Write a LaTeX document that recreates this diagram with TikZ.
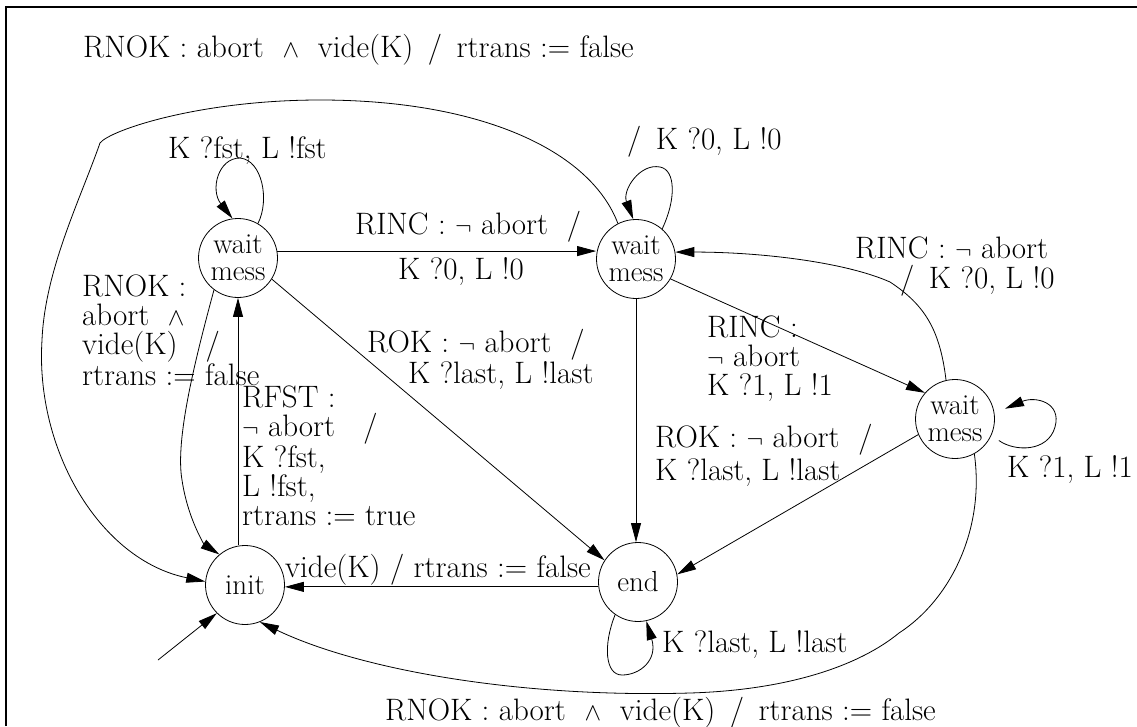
\documentclass[tikz,border=0pt]{standalone}
\usepackage{fontspec}
\usetikzlibrary{arrows.meta,calc}
\begin{document}
\begin{tikzpicture}[x=1pt,y=-1pt,
  every node/.style={font=\fontsize{31}{29}\selectfont},
  st/.style={draw,circle,minimum size=79pt,inner sep=0pt,align=center,font=\fontsize{29}{27}\selectfont,line width=0.8pt},
  arr/.style={-{Triangle[length=19pt,width=10pt]},line width=0.8pt},
  lbl/.style={anchor=base west,inner sep=0pt,align=left},
]
\useasboundingbox (0,0) rectangle (1137,726);
\draw[line width=1.2pt] (6,726) -- (6,7) -- (1137,7);

% states
\node[st] (w1) at (238,258) {wait\\mess};
\node[st] (w2) at (636,259) {wait\\mess};
\node[st] (w3) at (955,419) {wait\\mess};
\node[st] (init) at (245,585) {init};
\node[st] (end) at (638,582) {end};
\coordinate (start) at (158,660);

% edges
\draw[arr] (w1.60) .. controls (270,200) and (262,160) .. (240,158)
  .. controls (218,158) and (210,190) .. (w1.98);
\draw[arr] (w1.10) -- (w1.10 -| w2.west);
\draw[arr] (w1.-32) -- (end.147);
\draw[arr] (w1.-127) .. controls (195,360) and (175,440) .. (182,480)
  .. controls (188,520) and (205,545) .. (init.130);
\draw[arr] (init.north -| w1.south) -- (w1.south);
\draw[arr] (w2.49) .. controls (676,200) and (676,170) .. (660,167)
  .. controls (640,163) and (622,190) .. (w2.94);
\draw[arr] (w2.south) -- (w2.south |- end.north);
\draw[arr] (w2.-30) -- (w3.139);
\draw[arr] (w3.103) .. controls (940,330) and (925,305) .. (890,282)
  .. controls (845,262) and (760,252) .. (w2.10);
\draw[arr] ([shift={(8,4)}]w3.-26) .. controls (1015,452) and (1048,452) .. (1055,427)
  .. controls (1062,402) and (1035,396) .. ([shift={(11,-2)}]w3.12);
\draw[arr] (w3.-157) -- (end.11);
\draw[arr] (end.-173) -- (end.-173 -| init.east);
\draw[arr] (end.-125) .. controls (603,645) and (605,675) .. (622,675)
  .. controls (640,675) and (658,660) .. (end.-78);
\draw[arr] (w3.-61) .. controls (985,530) and (950,600) .. (899,633)
  .. controls (860,665) and (790,690) .. (690,693)
  .. controls (520,698) and (360,670) .. (init.-68);
\draw[arr] (w2.117) .. controls (590,150) and (480,100) .. (320,100)
  .. controls (200,100) and (110,130) .. (100,143)
  .. controls (80,200) and (45,270) .. (42,340)
  .. controls (35,450) and (100,560) .. (init.175);
\draw[arr] (start) -- (init.-135);

% labels
\node[lbl] (l1) at (83,57) {RNOK : abort \ $\wedge$ \ vide(K) \,/\, rtrans := false};
\node[lbl] (l2) at (168,158) {K ?fst, L !fst};
\node[lbl] (l3) at (627,149) {/ \,K ?0, L !0};
\node[lbl] (l4) at (355,234) {RINC : $\neg$ abort \ /};
\node[lbl] (l5) at (398,279) {K ?0, L !0};
\node[lbl] (l6) at (855,288) {RINC : $\neg$ abort\\[1pt]\hspace{45pt}/ \,K ?0, L !0};
\node[lbl] (l7) at (82,385) {RNOK :\\abort \ $\wedge$\\vide(K) \ \ /\\rtrans := false};
\node[lbl] (l8) at (242,525) {RFST :\\$\neg$ abort \ \ /\\K ?fst,\\L !fst,\\rtrans := true};
\node[lbl] (l9) at (367,383) {ROK : $\neg$ abort \ /\\\hspace{41pt}K ?last, L !last};
\node[lbl] (l10) at (707,395) {RINC :\\$\neg$ abort\\K ?1, L !1};
\node[lbl] (l11) at (655,480) {ROK : $\neg$ abort \ /\\[2pt]K ?last, L !last};
\node[lbl] (l12) at (1007,477) {K ?1, L !1};
\node[lbl] (l13) at (285,577) {vide(K) / rtrans := false};
\node[lbl] (l14) at (662,652) {K ?last, L !last};
\node[lbl] (l15) at (385,720) {RNOK : abort \ $\wedge$ \ vide(K) \,/\, rtrans := false};
\end{tikzpicture}
\end{document}
